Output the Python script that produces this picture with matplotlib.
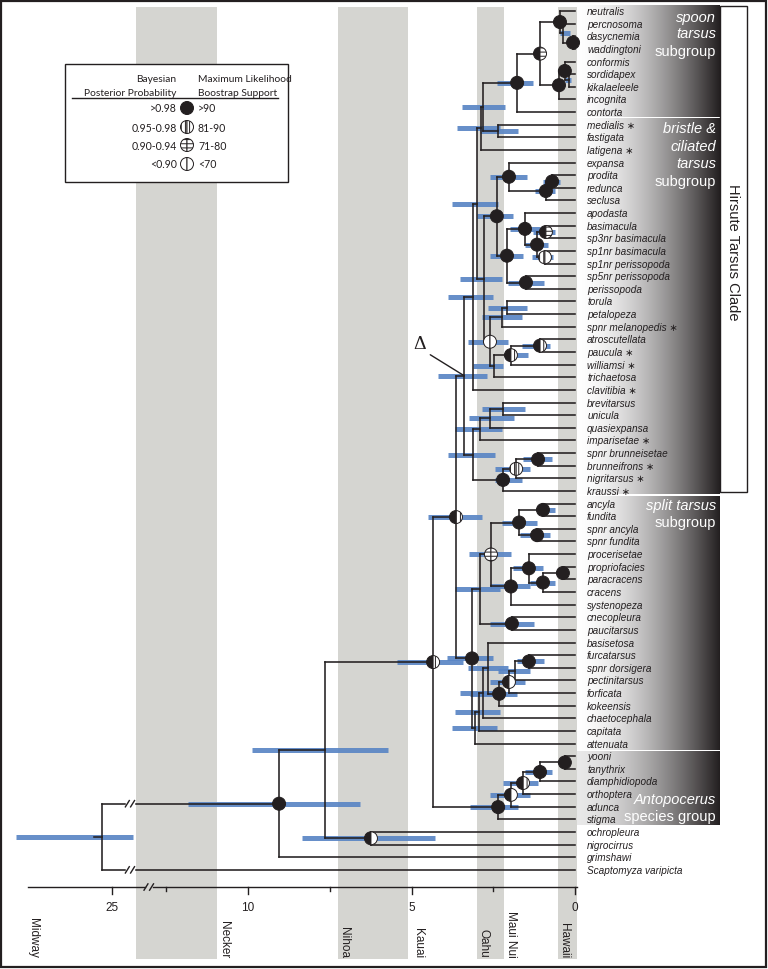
import numpy as np
import matplotlib
matplotlib.use("Agg")
import matplotlib.pyplot as plt
import matplotlib.transforms as mtransforms
from matplotlib.patches import Rectangle, Wedge

# tips, top to bottom
taxa = ["neutralis", "percnosoma", "dasycnemia", "waddingtoni", "conformis",
        "sordidapex", "kikalaeleele", "incognita", "contorta", "medialis",
        "fastigata", "latigena", "expansa", "prodita", "redunca", "seclusa",
        "apodasta", "basimacula", "sp3nr basimacula", "sp1nr basimacula",
        "sp1nr perissopoda", "sp5nr perissopoda", "perissopoda", "torula",
        "petalopeza", "spnr melanopedis", "atroscutellata", "paucula",
        "williamsi", "trichaetosa", "clavitibia", "brevitarsus", "unicula",
        "quasiexpansa", "imparisetae", "spnr brunneisetae", "brunneifrons",
        "nigritarsus", "kraussi", "ancyla", "fundita", "spnr ancyla",
        "spnr fundita", "procerisetae", "propriofacies", "paracracens",
        "cracens", "systenopeza", "cnecopleura", "paucitarsus", "basisetosa",
        "furcatarsus", "spnr dorsigera", "pectinitarsus", "forficata",
        "kokeensis", "chaetocephala", "capitata", "attenuata", "yooni",
        "tanythrix", "diamphidiopoda", "orthoptera", "adunca", "stigma",
        "ochropleura", "nigrocirrus", "grimshawi", "Scaptomyza varipicta"]
starred = ["medialis", "latigena", "spnr melanopedis", "paucula", "williamsi",
           "clavitibia", "imparisetae", "brunneifrons", "nigritarsus", "kraussi"]

# internal nodes (children before parents)
clades = [
    ("n_dw", "dasycnemia", "waddingtoni"), ("n_pdw", "percnosoma", "n_dw"),
    ("n_npdw", "neutralis", "n_pdw"), ("n_sk", "sordidapex", "kikalaeleele"),
    ("n_csk", "conformis", "n_sk"), ("n_cski", "n_csk", "incognita"),
    ("n_spoon", "n_npdw", "n_cski"), ("n_sc", "n_spoon", "contorta"),
    ("n_mf", "medialis", "fastigata"), ("n_X", "n_sc", "n_mf"),
    ("n_Y", "n_X", "latigena"), ("n_pr", "prodita", "redunca"),
    ("n_prs", "n_pr", "seclusa"), ("n_exp", "expansa", "n_prs"),
    ("n_bs", "basimacula", "sp3nr basimacula"),
    ("n_ss", "sp1nr basimacula", "sp1nr perissopoda"),
    ("n_4", "n_bs", "n_ss"), ("n_apo", "apodasta", "n_4"),
    ("n_per", "sp5nr perissopoda", "perissopoda"), ("n_257", "n_apo", "n_per"),
    ("n_ep", "n_exp", "n_257"), ("n_tp", "torula", "petalopeza"),
    ("n_tpm", "n_tp", "spnr melanopedis"), ("n_ap", "atroscutellata", "paucula"),
    ("n_apw", "n_ap", "williamsi"), ("n_apwt", "n_apw", "trichaetosa"),
    ("n_342", "n_tpm", "n_apwt"), ("n_W", "n_ep", "n_342"),
    ("n_Z", "n_Y", "n_W"), ("n_U", "n_Z", "clavitibia"),
    ("n_bu", "brevitarsus", "unicula"), ("n_buq", "n_bu", "quasiexpansa"),
    ("n_buqi", "n_buq", "imparisetae"),
    ("n_bb", "spnr brunneisetae", "brunneifrons"), ("n_bbn", "n_bb", "nigritarsus"),
    ("n_bbnk", "n_bbn", "kraussi"), ("n_B", "n_buqi", "n_bbnk"),
    ("n_D", "n_U", "n_B"), ("n_af", "ancyla", "fundita"),
    ("n_sasf", "spnr ancyla", "spnr fundita"), ("n_anc", "n_af", "n_sasf"),
    ("n_pp", "propriofacies", "paracracens"), ("n_ppc", "n_pp", "cracens"),
    ("n_pppc", "procerisetae", "n_ppc"), ("n_sys", "n_pppc", "systenopeza"),
    ("n_556", "n_anc", "n_sys"), ("n_cp", "cnecopleura", "paucitarsus"),
    ("n_590", "n_556", "n_cp"), ("n_fs", "furcatarsus", "spnr dorsigera"),
    ("n_fsp", "n_fs", "pectinitarsus"), ("n_fspf", "n_fsp", "forficata"),
    ("n_k", "n_fspf", "kokeensis"), ("n_bk", "basisetosa", "n_k"),
    ("n_bkc", "n_bk", "chaetocephala"), ("n_bkcc", "n_bkc", "capitata"),
    ("n_all", "n_bkcc", "attenuata"), ("n_split", "n_590", "n_all"),
    ("n_HS", "n_D", "n_split"), ("n_yt", "yooni", "tanythrix"),
    ("n_ytd", "n_yt", "diamphidiopoda"), ("n_ytdo", "n_ytd", "orthoptera"),
    ("n_ytdoa", "n_ytdo", "adunca"), ("n_ant", "n_ytdoa", "stigma"),
    ("n_DH", "n_HS", "n_ant"), ("n_on", "ochropleura", "nigrocirrus"),
    ("n_325", "n_DH", "n_on"), ("n_279", "n_325", "grimshawi"),
    ("root", "n_279", "Scaptomyza varipicta"),
]

# node ages (Ma)
node_age = {
    "n_dw": 0.06, "n_pdw": 0.37, "n_npdw": 0.46, "n_sk": 0.18, "n_csk": 0.31,
    "n_cski": 0.49, "n_spoon": 1.07, "n_sc": 1.77, "n_mf": 2.35, "n_X": 2.81,
    "n_Y": 2.87, "n_pr": 0.70, "n_prs": 0.89, "n_exp": 2.02, "n_bs": 0.89,
    "n_ss": 0.92, "n_4": 1.16, "n_apo": 1.53, "n_per": 1.50, "n_257": 2.08,
    "n_ep": 2.39, "n_tp": 2.08, "n_tpm": 2.23, "n_ap": 1.07, "n_apw": 1.96,
    "n_apwt": 2.48, "n_342": 2.60, "n_W": 2.78, "n_Z": 3.00, "n_U": 3.12,
    "n_bu": 2.20, "n_buq": 2.60, "n_buqi": 2.91, "n_bb": 1.13, "n_bbn": 1.80,
    "n_bbnk": 2.20, "n_B": 3.12, "n_D": 3.39, "n_af": 0.98, "n_sasf": 1.16,
    "n_anc": 1.71, "n_pp": 0.37, "n_ppc": 0.98, "n_pppc": 1.41, "n_sys": 1.96,
    "n_556": 2.57, "n_cp": 1.93, "n_590": 2.91, "n_fs": 1.41, "n_fsp": 1.83,
    "n_fspf": 2.02, "n_k": 2.32, "n_bk": 2.66, "n_bkc": 2.81, "n_bkcc": 2.94,
    "n_all": 3.06, "n_split": 3.15, "n_HS": 3.64, "n_yt": 0.31, "n_ytd": 1.07,
    "n_ytdo": 1.59, "n_ytdoa": 1.96, "n_ant": 2.35, "n_DH": 4.34, "n_on": 6.24,
    "n_325": 7.65, "n_279": 9.05, "root": 25.3,
}

# 95% HPD intervals (Ma)
node_ci = {
    "n_pdw": (0.15, 0.46), "n_sk": (0.12, 0.31), "n_sc": (1.28, 2.39),
    "n_mf": (1.74, 2.91), "n_X": (2.14, 3.46), "n_Y": (2.29, 3.61),
    "n_exp": (1.47, 2.60), "n_pr": (0.46, 0.98), "n_prs": (0.61, 1.22),
    "n_bs": (0.61, 1.28), "n_ss": (0.67, 1.31), "n_4": (0.83, 1.53),
    "n_apo": (1.07, 1.99), "n_per": (0.95, 2.05), "n_257": (1.59, 2.60),
    "n_ep": (1.90, 3.00), "n_tp": (1.47, 2.66), "n_tpm": (1.62, 2.84),
    "n_ap": (0.76, 1.62), "n_apw": (1.44, 2.14), "n_apwt": (2.20, 3.12),
    "n_342": (2.05, 3.27), "n_W": (2.23, 3.52), "n_Z": (2.35, 3.76),
    "n_U": (2.51, 3.88), "n_D": (2.69, 4.19), "n_bu": (1.53, 2.84),
    "n_buq": (1.87, 3.24), "n_buqi": (2.23, 3.67), "n_bb": (0.70, 1.59),
    "n_bbn": (1.38, 2.45), "n_bbnk": (1.62, 2.45), "n_B": (2.45, 3.88),
    "n_HS": (2.84, 4.50), "n_af": (0.61, 1.16), "n_sasf": (0.76, 1.68),
    "n_anc": (1.16, 2.23), "n_ppc": (0.61, 1.38), "n_pppc": (0.98, 1.90),
    "n_sys": (1.38, 2.60), "n_556": (1.96, 3.24), "n_cp": (1.25, 2.60),
    "n_590": (2.29, 3.67), "n_fs": (0.95, 1.77), "n_fsp": (1.38, 2.35),
    "n_fspf": (1.53, 2.60), "n_k": (1.77, 3.21), "n_bk": (2.05, 3.27),
    "n_bkc": (2.29, 3.52), "n_bkcc": (2.29, 3.67), "n_all": (2.39, 3.76),
    "n_split": (2.51, 3.91), "n_ytd": (0.70, 1.53), "n_ytdo": (1.13, 2.20),
    "n_ytdoa": (1.38, 2.60), "n_ant": (1.74, 3.21), "n_DH": (3.42, 5.44),
    "n_on": (4.28, 8.35), "n_325": (5.72, 9.88), "n_279": (6.57, 11.83),
    "root": (24.36, 27.93),
}

# support: (Bayesian PP half, ML bootstrap half)
# b = black, v = vertical stripes, h = horizontal stripes, w = white
node_support = {
    "n_dw": "bb", "n_npdw": "bb", "n_csk": "bb", "n_cski": "bb", "n_spoon": "bh",
    "n_sc": "bb", "n_exp": "bb", "n_pr": "bb", "n_prs": "bb", "n_ep": "bb",
    "n_apo": "bb", "n_bs": "bh", "n_4": "bb", "n_ss": "vw", "n_257": "bb",
    "n_per": "bb", "n_342": "ww", "n_ap": "bv", "n_apw": "bv", "n_bb": "bb",
    "n_bbn": "vv", "n_bbnk": "bb", "n_HS": "bv", "n_af": "bb", "n_sasf": "bb",
    "n_anc": "bb", "n_556": "hh", "n_pp": "bb", "n_ppc": "bb", "n_pppc": "bb",
    "n_sys": "bb", "n_cp": "bb", "n_split": "bb", "n_fs": "bb", "n_fspf": "bw",
    "n_k": "bb", "n_DH": "bv", "n_yt": "bb", "n_ytd": "bb", "n_ytdo": "bv",
    "n_ytdoa": "bw", "n_ant": "bb", "n_on": "bw", "n_279": "bb",
}

# island age bands (Ma) and labels
bands = [(10.95, 13.43), (5.11, 7.25), (2.17, 3.00), (-0.06, 0.52)]
islands = ["Midway", "Necker", "Nihoa", "Kauai", "Oahu", "Maui Nui", "Hawaii"]
island_pos = [27.6, 10.92, 7.25, 4.98, 2.97, 2.14, 0.52]
tick_ages = [25, 10, 5, 0]
minor_ages = [12.5, 7.5, 2.5]

legend_rows = [(">0.98", ">90", "b"), ("0.95-0.98", "81-90", "v"),
               ("0.90-0.94", "71-80", "h"), ("<0.90", "<70", "w")]

ink = "#231f20"
ci_color = "#5a86c5"
band_color = "#d5d5d1"
R = 0.065  # symbol radius, inches
tfont = ["Liberation Sans", "DejaVu Sans"]
plt.rcParams["hatch.linewidth"] = 0.7


def xpos(age):
    # axis is broken between ~13 and ~24 Ma
    return age - 10.84 if age > 13.5 else age


fig = plt.figure(figsize=(7.68, 9.70), dpi=100)
ax = fig.add_axes([0, 0, 1, 1])
ax.axis("off")

# y position of tips and nodes
ypos = {name: i for i, name in enumerate(taxa)}
for node, a, b in clades:
    ypos[node] = (ypos[a] + ypos[b]) / 2


def nx(name):
    return xpos(node_age[name]) if name in node_age else 0.0


# island bands
for lo, hi in bands:
    ax.add_patch(Rectangle((lo, -0.32), hi - lo, 75.38, facecolor=band_color,
                           lw=0, zorder=0))

# gradient label panels
t = np.linspace(0, 1, 300)
dark = np.array([35, 31, 32]) / 255


def panel(y0, y1, start=1.0):
    v = start - start * t ** 1.6
    rgb = dark + (1 - dark) * v[:, None]
    ax.imshow(rgb[None, :, :], extent=(-0.06, -4.43, y1, y0), aspect="auto",
              interpolation="bilinear", zorder=1)


panel(-0.4, 8.4)
panel(8.55, 38.25)
panel(38.42, 58.5)
panel(58.66, 64.45, start=0.9)

# Hirsute tarsus clade box
ax.add_patch(Rectangle((-4.43, -0.4), -0.83, 38.5, facecolor="white",
                       edgecolor=ink, lw=1.0, zorder=2))
ax.text(-4.84, 19.0, "Hirsute Tarsus Clade", rotation=270, ha="center",
        va="center", fontsize=10.5, color=ink, family=tfont)

# group labels inside panels
groups = [("spoon", 0.48, True), ("tarsus", 1.74, True), ("subgroup", 3.17, False),
          ("bristle &", 9.26, True), ("ciliated", 10.69, True), ("tarsus", 12.04, True),
          ("subgroup", 13.46, False), ("split tarsus", 39.11, True),
          ("subgroup", 40.46, False), ("Antopocerus", 62.39, True),
          ("species group", 63.74, False)]
for txt, yy, it in groups:
    ax.text(-4.31, yy, txt, ha="right", va="center", fontsize=10.5,
            color="white", style="italic" if it else "normal", family=tfont,
            zorder=3)

# confidence bars
for node, (lo, hi) in node_ci.items():
    ax.plot([xpos(lo), xpos(hi)], [ypos[node]] * 2, color=ci_color, lw=3.6,
            solid_capstyle="butt", alpha=0.92, zorder=2)

# branches
for node, a, b in clades:
    x = nx(node)
    ax.plot([x, x], [ypos[a], ypos[b]], color=ink, lw=1.15, zorder=3,
            solid_capstyle="projecting")
    for c in (a, b):
        ax.plot([x, nx(c)], [ypos[c], ypos[c]], color=ink, lw=1.15, zorder=3,
                solid_capstyle="projecting")
# root stem
ax.plot([nx("root"), nx("root") + 0.25], [ypos["root"]] * 2, color=ink,
        lw=1.15, zorder=3)

# break marks on the two root branches
brk = xpos(24.45)
for c in ("n_279", "Scaptomyza varipicta"):
    yy = ypos[c]
    ax.plot([brk + 0.1, brk - 0.1], [yy, yy], color="white", lw=2.5, zorder=4)
    for dx in (0.08, -0.08):
        ax.plot([brk + dx + 0.06, brk + dx - 0.06], [yy + 0.25, yy - 0.25],
                color=ink, lw=1.0, zorder=5)

# tip labels
for name in taxa:
    label = name + (" \u2217" if name in starred else "")
    ax.text(-0.37, ypos[name], label, ha="left", va="center", fontsize=7.2,
            style="italic", color=ink, family=tfont, zorder=3)


# support symbols
def symbol(x, y, code, base, z=6):
    trans = fig.dpi_scale_trans + mtransforms.ScaledTranslation(x, y, base)
    for (t1, t2), c in zip(((90, 270), (270, 90)), code):
        ax.add_patch(Wedge((0, 0), R, t1, t2, transform=trans,
                           facecolor=ink if c == "b" else "white",
                           edgecolor=ink, lw=0.7,
                           hatch={"v": "||||", "h": "----"}.get(c),
                           zorder=z))


for node, code in node_support.items():
    symbol(nx(node), ypos[node], code, ax.transData)

# delta marker
ax.annotate("\u0394", xy=(nx("n_D"), ypos["n_D"]), xytext=(4.74, 26.35),
            fontsize=14, family=["Liberation Serif", "DejaVu Serif"],
            ha="center", va="center", color=ink,
            arrowprops=dict(arrowstyle="-", lw=1.0, color=ink,
                            relpos=(1.0, 0.0), shrinkA=1, shrinkB=0))

# time axis
ay = 69.36
ax.plot([xpos(27.6) - 0.03, 13.15], [ay, ay], color=ink, lw=1.0)
ax.plot([12.92, -0.06], [ay, ay], color=ink, lw=1.0)
for dx in (13.12, 12.95):
    ax.plot([dx + 0.06, dx - 0.06], [ay + 0.25, ay - 0.25], color=ink, lw=1.0)
for a in tick_ages:
    ax.plot([xpos(a)] * 2, [ay, ay + 0.55], color=ink, lw=1.0)
    ax.text(xpos(a), 70.95, str(a), ha="center", va="center", fontsize=8.5,
            color=ink, family=tfont)
for a in minor_ages:
    ax.plot([xpos(a)] * 2, [ay, ay + 0.35], color=ink, lw=1.0)
for name, a in zip(islands, island_pos):
    ax.text(xpos(a), 74.9, name, rotation=270, ha="left", va="bottom",
            fontsize=8.5, color=ink, family=tfont)

# legend (figure-fraction layout)
W, H = 768.0, 970.0


def f(px, py):
    return px / W, 1 - py / H


lx, ly = f(65, 183)
ax.add_patch(Rectangle((lx, ly), 223 / W, 118 / H, transform=ax.transAxes,
                       facecolor="white", edgecolor=ink, lw=1.0, zorder=7))
lfont = ["Lato", "DejaVu Sans"]
for txt, px, py, ha in [("Bayesian", 176, 80, "right"),
                        ("Posterior Probability", 176, 93, "right"),
                        ("Maximum Likelihood", 198, 80, "left"),
                        ("Boostrap Support", 198, 93, "left")]:
    ax.text(*f(px, py), txt, transform=ax.transAxes, ha=ha, va="center",
            fontsize=7.4, color=ink, family=lfont, zorder=8)
ax.plot([72 / W, 278 / W], [1 - 99 / H] * 2, transform=ax.transAxes,
        color=ink, lw=1.0, zorder=8)
for (left, right, code), py in zip(legend_rows, [109, 128, 146, 165]):
    ax.text(*f(177, py), left, transform=ax.transAxes, ha="right",
            va="center", fontsize=7.6, color=ink, family=lfont, zorder=8)
    ax.text(*f(198, py), right, transform=ax.transAxes, ha="left",
            va="center", fontsize=7.6, color=ink, family=lfont, zorder=8)
    sx, sy = f(187, py)
    symbol(sx, sy, code * 2, ax.transAxes, z=8)

# outer frame
ax.add_patch(Rectangle((1 / W, 2 / H), 765 / W, 966 / H, transform=ax.transAxes,
                       fill=False, edgecolor=ink, lw=1.6, zorder=9))

ax.set_xlim(17.584, -5.902)
ax.set_ylim(75.85, -0.95)

fig.savefig("out.png", dpi=100)
